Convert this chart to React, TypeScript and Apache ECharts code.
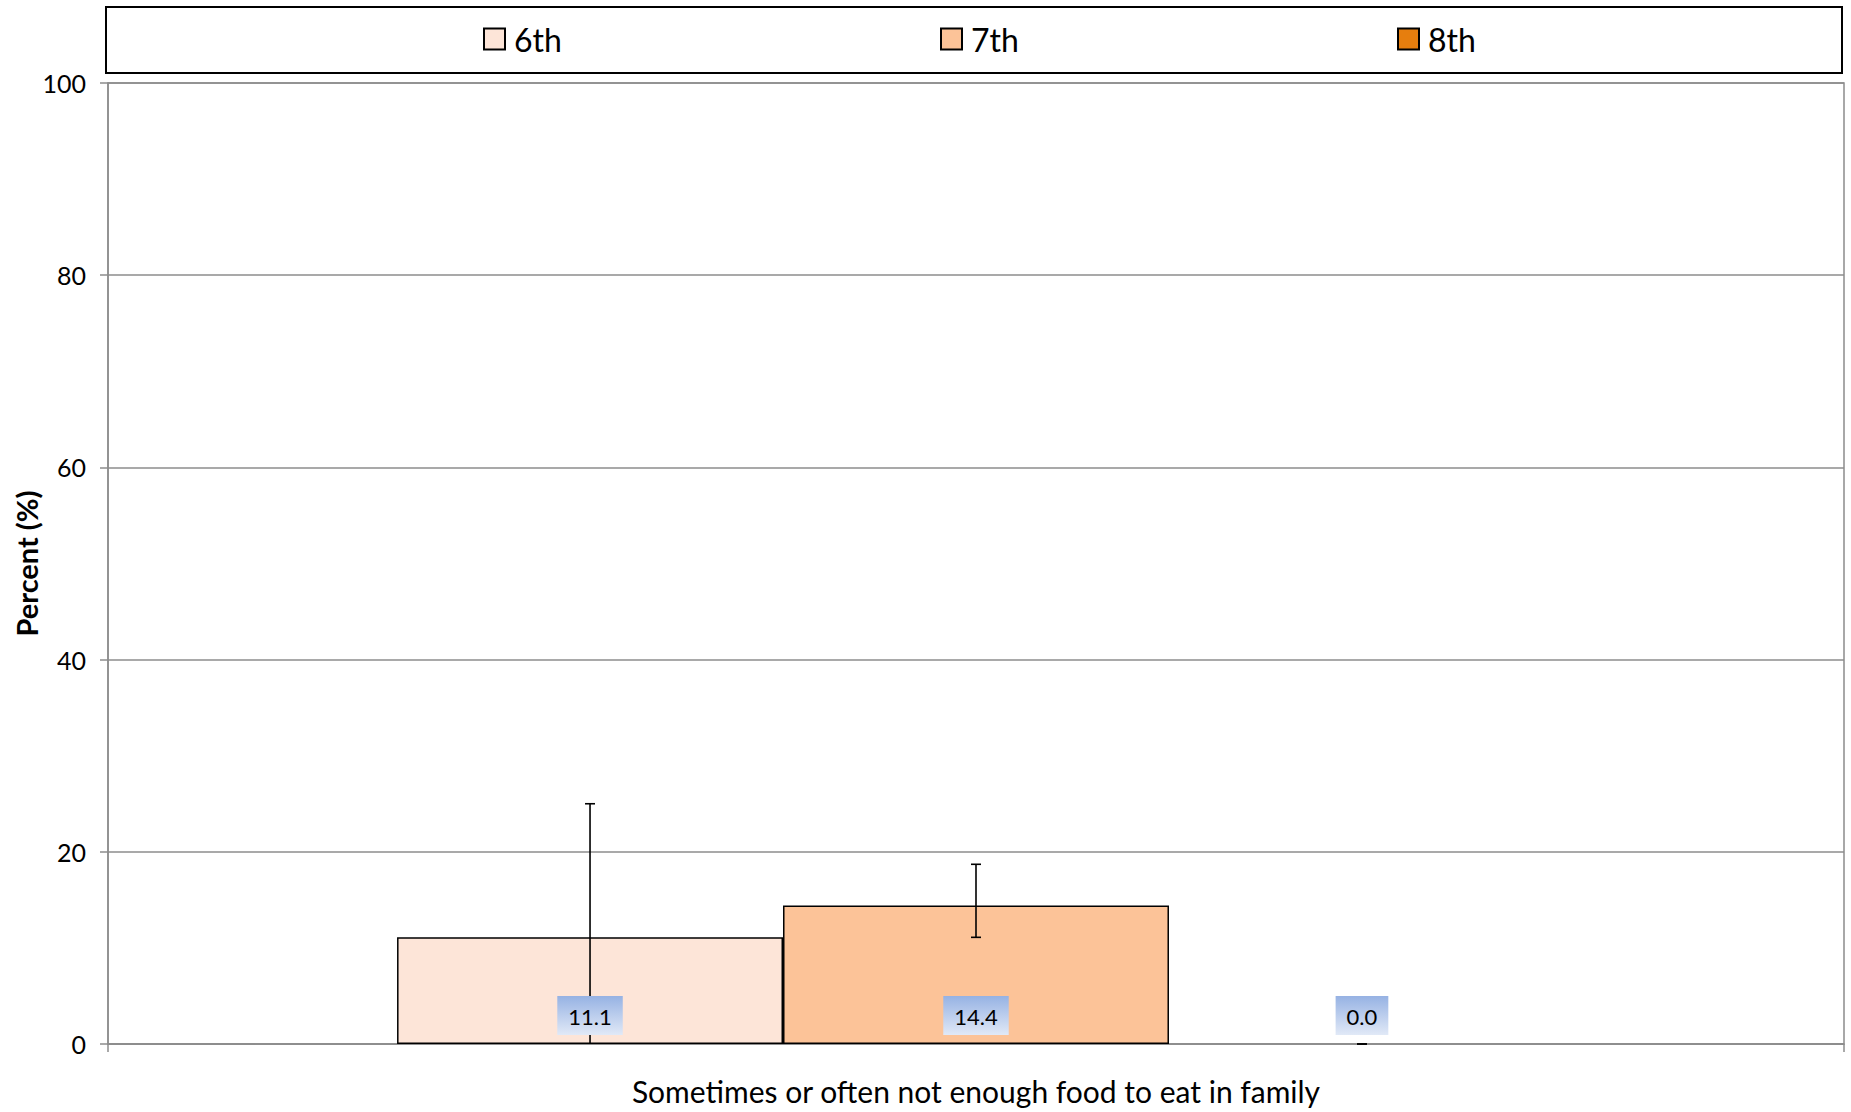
import React, { useEffect, useRef } from "react";
import * as echarts from "echarts";

const categories = ["Sometimes or often not enough food to eat in family"];
const gradeNames = ["6th", "7th", "8th"];
const sixthValues = [11.1];
const seventhValues = [14.4];
const eighthValues = [0.0];
const sixthLower = [-2.7];
const sixthUpper = [25.0];
const seventhLower = [11.1];
const seventhUpper = [18.7];
const eighthLower = [0.0];
const eighthUpper = [0.0];
const yTickMax = 100;
const yTickStep = 20;

const gradeColors = ["#FDE5D8", "#FCC398", "#E67E0E"];
const legendLefts = [483, 940, 1397];
const FONT = "Lato, 'Liberation Sans', sans-serif";
const CAT_GAP = 0.333;

export default function App() {
  const ref = useRef<HTMLDivElement>(null);
  useEffect(() => {
    if (!ref.current) return;
    const chart = echarts.init(ref.current, undefined, { renderer: "svg" });
    const values = [sixthValues, seventhValues, eighthValues];
    const lowers = [sixthLower, seventhLower, eighthLower];
    const uppers = [sixthUpper, seventhUpper, eighthUpper];

    const barSeries = gradeNames.map((name, i) => ({
      name,
      type: "bar",
      data: values[i].map((v) => (v === 0 ? { value: v, itemStyle: { borderWidth: 0 } } : v)),
      barGap: "0%",
      barCategoryGap: (CAT_GAP * 100).toFixed(1) + "%",
      z: 2,
      itemStyle: { color: gradeColors[i], borderColor: "#000", borderWidth: 1.5 },
    }));

    const errSeries = gradeNames.map((name, i) => ({
      name: name + "-err",
      type: "custom",
      z: 5,
      silent: true,
      encode: { x: 0, y: [1, 2, 3] },
      data: values[i].map((v, k) => [k, v, lowers[i][k], uppers[i][k]]),
      renderItem: (params: any, api: any) => {
        const cat = api.value(0);
        const val = api.value(1);
        const lo = api.value(2);
        const hi = api.value(3);
        const band = api.size([1, 0])[0];
        const barW = (band * (1 - CAT_GAP)) / 3;
        const base = api.coord([cat, 0]);
        const cx = base[0] + (i - 1) * barW;
        const y0 = base[1];
        const yLo = api.coord([cat, Math.max(lo, 0)])[1];
        const yHi = api.coord([cat, hi])[1];
        const ls = { stroke: "#000", lineWidth: 1.6 };
        const children: any[] = [
          { type: "line", shape: { x1: cx, y1: yLo, x2: cx, y2: yHi }, style: ls },
          { type: "line", shape: { x1: cx - 5, y1: yHi, x2: cx + 5, y2: yHi }, style: ls },
        ];
        if (lo >= 0) {
          children.push({ type: "line", shape: { x1: cx - 5, y1: yLo, x2: cx + 5, y2: yLo }, style: ls });
        }
        children.push({
          type: "text",
          x: cx,
          y: y0 - 9,
          style: {
            text: Number(val).toFixed(1),
            fill: "#000",
            font: "22px " + FONT,
            align: "center",
            verticalAlign: "bottom",
            padding: [9, 11, 8, 11],
            backgroundColor: new echarts.graphic.LinearGradient(0, 0, 0, 1, [
              { offset: 0, color: "#96B2E3" },
              { offset: 1, color: "#E1E9F7" },
            ]),
          },
        });
        return { type: "group", children };
      },
    }));

    chart.setOption({
      animation: false,
      backgroundColor: "#fff",
      textStyle: { fontFamily: FONT },
      grid: {
        left: 108,
        right: 7,
        top: 83,
        bottom: 68,
        outerBoundsMode: "none",
        containLabel: false,
        show: true,
        borderColor: "#8C8C8C",
        borderWidth: 1.5,
      },
      graphic: [
        {
          type: "rect",
          shape: { x: 106, y: 7, width: 1736, height: 66 },
          style: { fill: "none", stroke: "#000", lineWidth: 2 },
          z: 10,
        },
      ],
      legend: gradeNames.map((name, i) => ({
        data: [name],
        left: legendLefts[i],
        top: 23,
        padding: 0,
        icon: "rect",
        itemWidth: 21,
        itemHeight: 21,
        itemGap: 0,
        textStyle: { fontSize: 32, color: "#000", fontFamily: FONT, padding: [0, 0, 0, 4] },
      })),
      xAxis: {
        type: "category",
        data: categories,
        axisLine: { lineStyle: { color: "#8C8C8C", width: 1.5 } },
        axisTick: { show: true, length: 8, lineStyle: { color: "#8C8C8C", width: 1.5 } },
        axisLabel: { color: "#000", fontSize: 30, margin: 32, fontFamily: FONT },
      },
      yAxis: {
        type: "value",
        min: 0,
        max: yTickMax,
        interval: yTickStep,
        name: "Percent (%)",
        nameLocation: "middle",
        nameRotate: 90,
        nameGap: 67,
        nameMoveOverlap: false,
        nameTextStyle: { fontSize: 29, fontWeight: "bold", color: "#000", fontFamily: FONT },
        axisLine: { show: true, lineStyle: { color: "#8C8C8C", width: 1.5 } },
        axisTick: { show: true, length: 8, lineStyle: { color: "#8C8C8C", width: 1.5 } },
        axisLabel: { color: "#000", fontSize: 25, margin: 22, fontFamily: FONT },
        splitLine: { show: true, lineStyle: { color: "#8C8C8C", width: 1.5 } },
      },
      series: [...barSeries, ...errSeries],
    });
    return () => chart.dispose();
  }, []);
  return (
    <div
      ref={ref}
      style={{ position: "fixed", left: 0, top: 0, width: 1851, height: 1112, background: "#fff" }}
    />
  );
}
